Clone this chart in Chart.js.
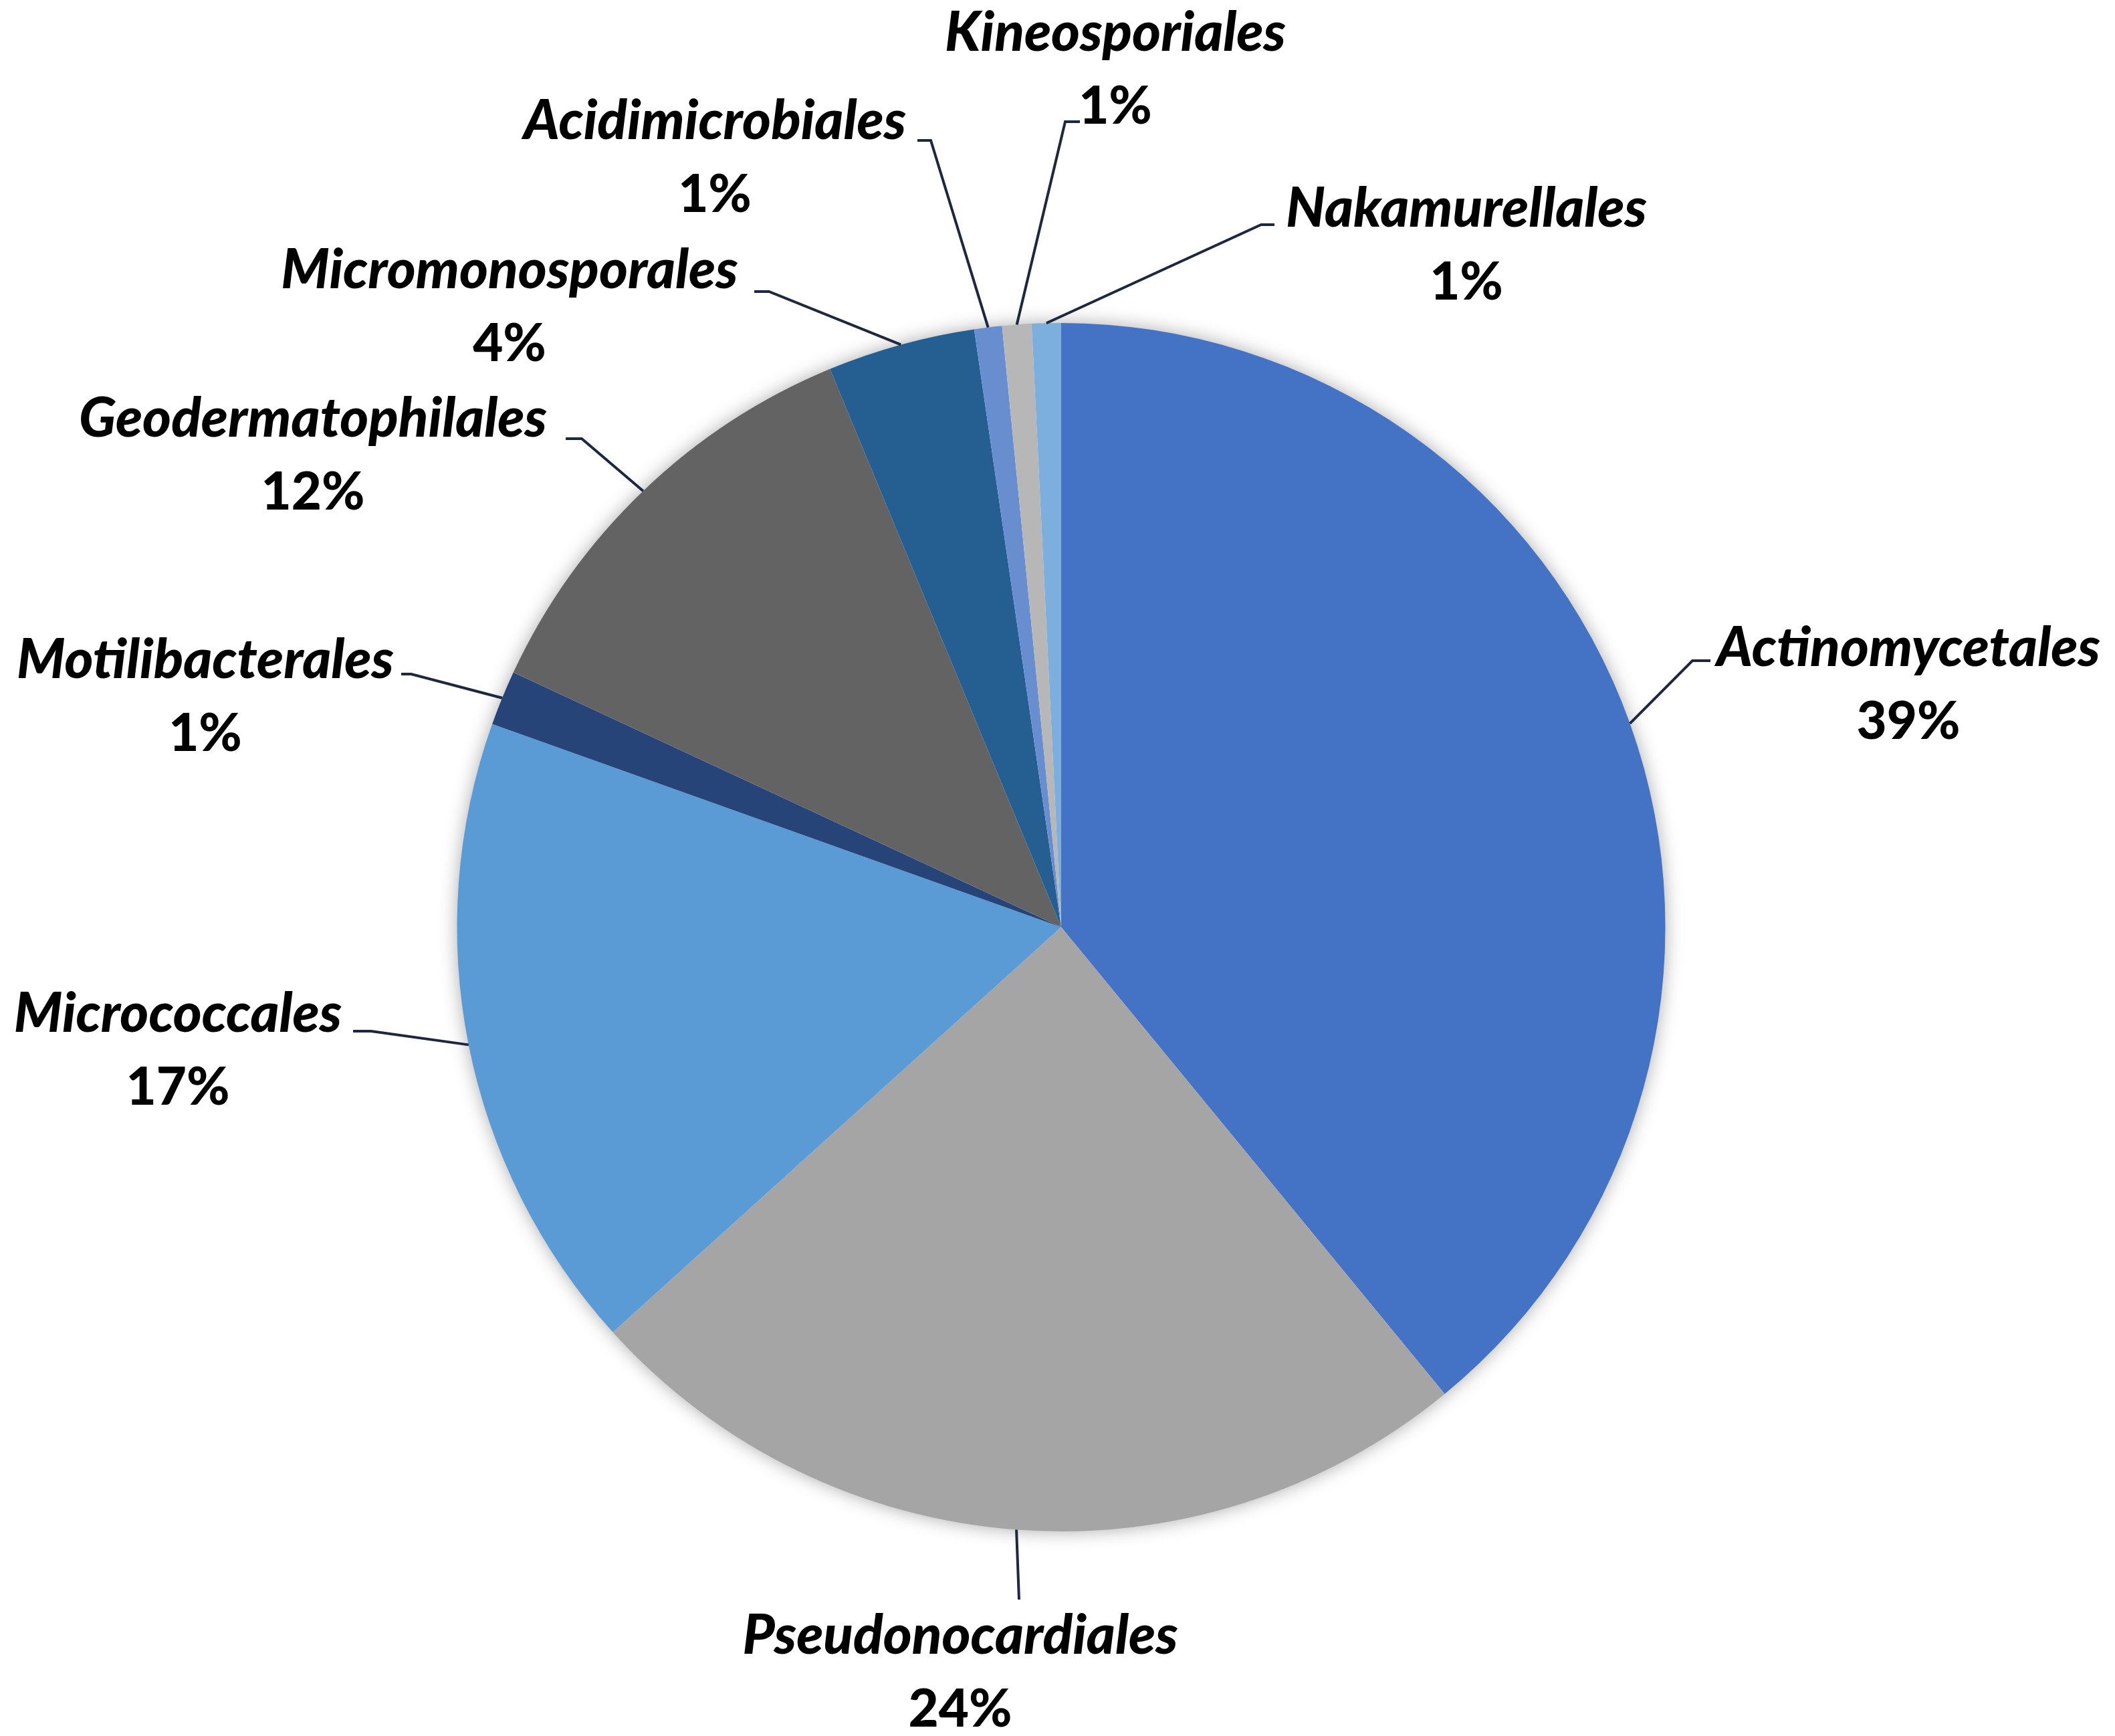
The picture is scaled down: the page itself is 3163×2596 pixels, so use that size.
<!DOCTYPE html>
<html>
<head>
<meta charset="utf-8">
<script src="https://cdn.jsdelivr.net/npm/chart.js@4.4.1/dist/chart.umd.min.js"></script>
<style>
  html, body { margin: 0; padding: 0; background: #fff; }
  #wrap { width: 3163px; height: 2596px; position: relative; }
</style>
</head>
<body>
<div id="wrap"><canvas id="pieChart"></canvas></div>
<script>
const orders = [
  "Actinomycetales",
  "Pseudonocardiales",
  "Micrococcales",
  "Motilibacterales",
  "Geodermatophilales",
  "Micromonosporales",
  "Acidimicrobiales",
  "Kineosporiales",
  "Nakamurellales",
];
// share of each order
const shares = [39.05, 24.25, 17.15, 1.47, 11.82, 3.95, 0.74, 0.78, 0.78];
const sliceColors = [
  "#4472C4",
  "#A5A5A5",
  "#5B9BD5",
  "#264478",
  "#636363",
  "#255E91",
  "#698ED0",
  "#B7B7B7",
  "#7CAFDD",
];

// where each label sits and where its leader line bends (canvas px)
const labelLayout = [
  { x: 2854, y: 970, elbow: [2531, 988], end: [2558, 988] },
  { x: 1436, y: 2447, elbow: [1524, 2392], end: [1524, 2392] },
  { x: 266, y: 1517, elbow: [555, 1542], end: [528, 1542] },
  { x: 307, y: 988, elbow: [615, 1008], end: [600, 1008] },
  { x: 468, y: 627, elbow: [870, 656], end: [846, 656] },
  { x: 762, y: 405, elbow: [1150, 436], end: [1128, 436] },
  { x: 1069, y: 182, elbow: [1392, 210], end: [1372, 210] },
  { x: 1668, y: 50, elbow: [1593, 182], end: [1615, 182] },
  { x: 2193, y: 313, elbow: [1886, 336], end: [1906, 336] },
];

const pieShadow = {
  id: "pieShadow",
  beforeDatasetsDraw(chart) {
    const arc = chart.getDatasetMeta(0).data[0];
    if (!arc) return;
    const p = arc.getProps(["x", "y", "outerRadius"], true);
    const ctx = chart.ctx;
    ctx.save();
    ctx.shadowColor = "rgba(0, 0, 0, 0.35)";
    ctx.shadowBlur = 28;
    ctx.fillStyle = "#ffffff";
    ctx.beginPath();
    ctx.arc(p.x, p.y, p.outerRadius - 1, 0, Math.PI * 2);
    ctx.fill();
    ctx.restore();
  },
};

const leaderLabels = {
  id: "leaderLabels",
  afterDraw(chart) {
    const ctx = chart.ctx;
    const total = shares.reduce((a, b) => a + b, 0);
    chart.getDatasetMeta(0).data.forEach((arc, i) => {
      const p = arc.getProps(["x", "y", "startAngle", "endAngle", "outerRadius"], true);
      const mid = (p.startAngle + p.endAngle) / 2;
      const ax = p.x + Math.cos(mid) * p.outerRadius;
      const ay = p.y + Math.sin(mid) * p.outerRadius;
      const lay = labelLayout[i];

      ctx.save();
      ctx.strokeStyle = "#1c2740";
      ctx.lineWidth = 4;
      ctx.beginPath();
      ctx.moveTo(ax, ay);
      ctx.lineTo(lay.elbow[0], lay.elbow[1]);
      ctx.lineTo(lay.end[0], lay.end[1]);
      ctx.stroke();

      ctx.fillStyle = "#000000";
      ctx.textAlign = "center";
      ctx.textBaseline = "middle";
      ctx.font = "italic 900 82px Lato, 'DejaVu Sans', sans-serif";
      ctx.fillText(orders[i], lay.x, lay.y);
      ctx.font = "900 78px Lato, 'DejaVu Sans', sans-serif";
      ctx.fillText(Math.round((shares[i] / total) * 100) + "%", lay.x, lay.y + 110);
      ctx.restore();
    });
  },
};

const ctx = document.getElementById("pieChart").getContext("2d");
const pieChart = new Chart(ctx, {
  type: "pie",
  data: {
    labels: orders,
    datasets: [
      {
        data: shares,
        backgroundColor: sliceColors,
        borderWidth: 0,
      },
    ],
  },
  options: {
    responsive: true,
    maintainAspectRatio: false,
    animation: false,
    devicePixelRatio: 1,
    layout: {
      padding: { top: 483, bottom: 306, left: 683, right: 672 },
    },
    plugins: {
      legend: { display: false },
      tooltip: { enabled: false },
    },
  },
  plugins: [pieShadow, leaderLabels],
});
</script>
</body>
</html>
